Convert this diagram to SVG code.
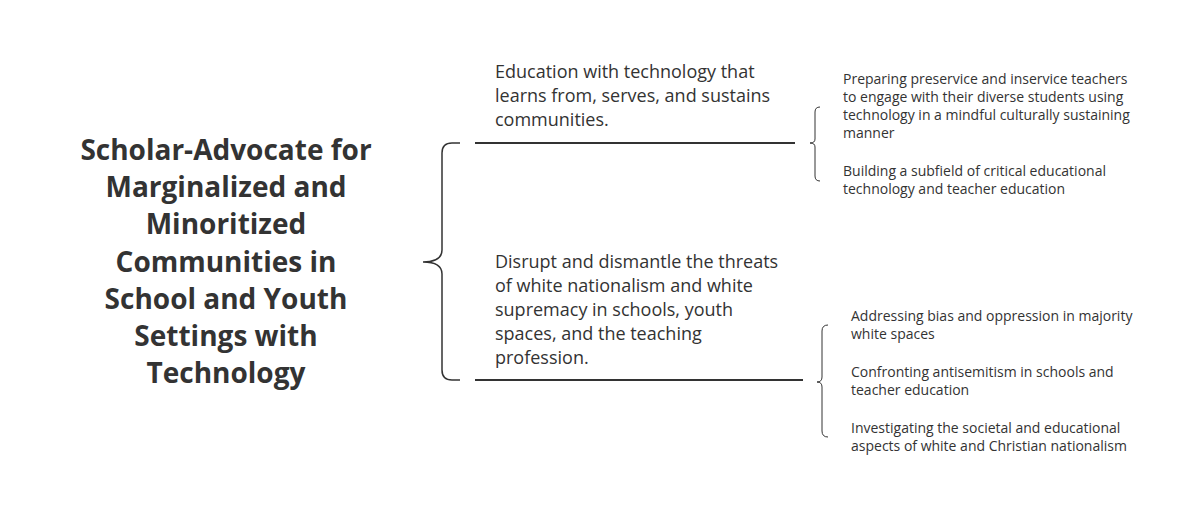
<svg xmlns="http://www.w3.org/2000/svg" width="1193" height="511" viewBox="0 0 1193 511">
<style>
text{font-family:"Open Sans","Noto Sans","Liberation Sans",sans-serif;fill:#333}
.t{font-size:28px;font-weight:bold;text-anchor:middle}
.m{font-size:18px}
.s{font-size:14px}
.ln{stroke:#333;stroke-width:2;fill:none}
.br{stroke:#333;stroke-width:1.5;fill:none}
.bs{stroke:#333;stroke-width:1;fill:none}
</style>
<rect width="1193" height="511" fill="#fff"/>
<g id="root">
<text class="t" x="226"><tspan x="226" y="160">Scholar-Advocate for</tspan><tspan x="226" y="197">Marginalized and</tspan><tspan x="226" y="234">Minoritized</tspan><tspan x="226" y="272">Communities in</tspan><tspan x="226" y="309">School and Youth</tspan><tspan x="226" y="346">Settings with</tspan><tspan x="226" y="383">Technology</tspan></text>
</g>
<g id="goal1">
<text class="m"><tspan x="495" y="78">Education with technology that</tspan><tspan x="495" y="102">learns from, serves, and sustains</tspan><tspan x="495" y="126">communities.</tspan></text>
</g>
<g id="goal2">
<text class="m"><tspan x="495" y="268">Disrupt and dismantle the threats</tspan><tspan x="495" y="292">of white nationalism and white</tspan><tspan x="495" y="316">supremacy in schools, youth</tspan><tspan x="495" y="340">spaces, and the teaching</tspan><tspan x="495" y="364">profession.</tspan></text>
</g>
<g id="sub1">
<text class="s"><tspan x="843" y="84">Preparing preservice and inservice teachers</tspan><tspan x="843" y="102">to engage with their diverse students using</tspan><tspan x="843" y="120">technology in a mindful culturally sustaining</tspan><tspan x="843" y="138">manner</tspan></text>
<text class="s"><tspan x="843" y="176">Building a subfield of critical educational</tspan><tspan x="843" y="194">technology and teacher education</tspan></text>
</g>
<g id="sub2">
<text class="s"><tspan x="851" y="321">Addressing bias and oppression in majority</tspan><tspan x="851" y="339">white spaces</tspan></text>
<text class="s"><tspan x="851" y="377">Confronting antisemitism in schools and</tspan><tspan x="851" y="395">teacher education</tspan></text>
<text class="s"><tspan x="851" y="433">Investigating the societal and educational</tspan><tspan x="851" y="451">aspects of white and Christian nationalism</tspan></text>
</g>
<g id="connectors">
<path class="br" d="M460,143 H452 Q442,143 442,153 V250 Q442,262 423,262 Q442,262 442,274 V370 Q442,380 452,380 H460"/>
<line class="ln" x1="475" y1="143" x2="795" y2="143"/>
<line class="ln" x1="475" y1="380" x2="803" y2="380"/>
<path class="bs" d="M820,107 Q815,107 815,112 V139 Q815,143 810,143 Q815,143 815,147 V176 Q815,181 820,181"/>
<path class="bs" d="M828,325 Q822,325 822,331 V377 Q822,382 817,382 Q822,382 822,387 V431 Q822,437 828,437"/>
</g>
</svg>
